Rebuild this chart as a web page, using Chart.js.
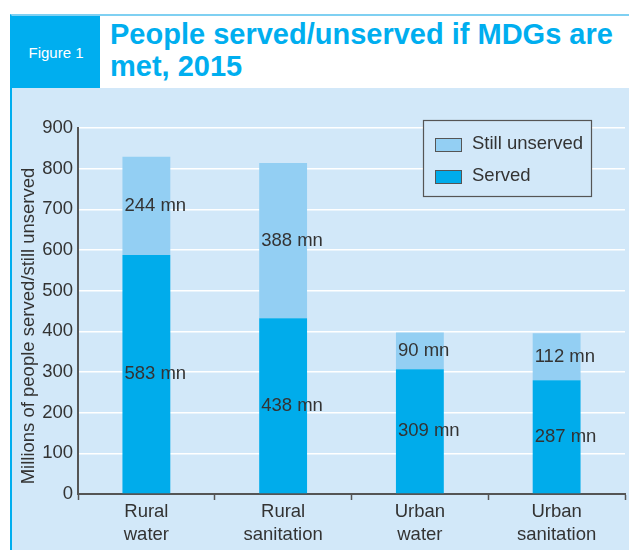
<!DOCTYPE html>
<html>
<head>
<meta charset="utf-8">
<script src="https://cdn.jsdelivr.net/npm/chart.js@4"></script>
<style>
  body { margin: 0; width: 629px; height: 550px; background: #fff; overflow: hidden; font-family: "Liberation Sans", Arial, sans-serif; }
  #frame { position: absolute; left: 10px; top: 14px; width: 619px; height: 536px; border-top: 2px solid #7fd0f2; border-left: 2px solid #00aeef; box-sizing: border-box; }
  #fig { position: absolute; left: 0; top: 0; width: 88px; height: 72px; background: #00aeef; color: #fff; font-size: 15px; display: flex; align-items: center; justify-content: center; }
  #title { position: absolute; left: 98px; top: 2px; color: #00aeef; font-weight: bold; font-size: 29px; line-height: 32px; }
  #panel { position: absolute; left: 0; top: 72px; width: 617px; height: 462px; background: #d2e8f9; }
  #chart-wrap { position: absolute; left: 0; top: 0; width: 617px; height: 462px; }
</style>
</head>
<body>
<div id="frame">
  <div id="fig">Figure 1</div>
  <div id="title">People served/unserved if MDGs are<br>met, 2015</div>
  <div id="panel">
    <div id="chart-wrap"><canvas id="mdgChart"></canvas></div>
  </div>
</div>
<script>
// categories (two-line labels)
const categories = [['Rural', 'water'], ['Rural', 'sanitation'], ['Urban', 'water'], ['Urban', 'sanitation']];
// bar heights as drawn, millions of people
const served = [588, 432, 307, 280];
const unserved = [241, 382, 90, 115];
// printed labels on the bars
const servedLabels = ['583 mn', '438 mn', '309 mn', '287 mn'];
const unservedLabels = ['244 mn', '388 mn', '90 mn', '112 mn'];
const yTicks = [0, 100, 200, 300, 400, 500, 600, 700, 800, 900];
const yTitle = 'Millions of people served/still unserved';

const SERVED_COLOR = '#00aceb';
const UNSERVED_COLOR = '#93cff3';
const TEXT_COLOR = '#333333';
const AXIS_COLOR = '#555555';
const FONT = '"Liberation Sans", Arial, sans-serif';

// writes the "xxx mn" text on each segment
const barLabels = {
    id: 'barLabels',
    afterDatasetsDraw(chart) {
        const ctx = chart.ctx;
        ctx.save();
        ctx.font = '18.5px ' + FONT;
        ctx.fillStyle = TEXT_COLOR;
        ctx.textBaseline = 'middle';
        ctx.textAlign = 'left';
        chart.data.datasets.forEach((ds, di) => {
            const meta = chart.getDatasetMeta(di);
            meta.data.forEach((bar, i) => {
                const left = bar.x - bar.width / 2;
                const mid = (bar.y + bar.base) / 2;
                ctx.fillText(ds.valueLabels[i], left + 2, mid);
            });
        });
        ctx.restore();
    }
};

// rotated y-axis title, sits a little below the middle like the original
const yAxisTitle = {
    id: 'yAxisTitle',
    afterDraw(chart) {
        const ctx = chart.ctx;
        const area = chart.chartArea;
        ctx.save();
        ctx.translate(17, (area.top + area.bottom) / 2 + 15);
        ctx.rotate(-Math.PI / 2);
        ctx.font = '18.5px ' + FONT;
        ctx.fillStyle = TEXT_COLOR;
        ctx.textAlign = 'center';
        ctx.textBaseline = 'middle';
        ctx.fillText(yTitle, 0, 0);
        ctx.restore();
    }
};

// boxed legend inside the plot, top right
const boxLegend = {
    id: 'boxLegend',
    afterDraw(chart) {
        const ctx = chart.ctx;
        const area = chart.chartArea;
        const w = 168, h = 76;
        const x = area.right - 34 - w, y = area.top - 8;
        ctx.save();
        ctx.fillStyle = '#d2e8f9';
        ctx.fillRect(x, y, w, h);
        ctx.strokeStyle = AXIS_COLOR;
        ctx.lineWidth = 1.2;
        ctx.strokeRect(x + 0.5, y + 0.5, w, h);
        ctx.font = '18.5px ' + FONT;
        ctx.textBaseline = 'middle';
        const items = [chart.data.datasets[1], chart.data.datasets[0]];
        items.forEach((ds, k) => {
            const cy = y + 24 + k * 32;
            ctx.fillStyle = ds.backgroundColor;
            ctx.fillRect(x + 12, cy - 6, 26, 13);
            ctx.strokeStyle = AXIS_COLOR;
            ctx.lineWidth = 1;
            ctx.strokeRect(x + 12.5, cy - 5.5, 26, 13);
            ctx.fillStyle = TEXT_COLOR;
            ctx.fillText(ds.label, x + 49, cy);
        });
        ctx.restore();
    }
};

new Chart(document.getElementById('mdgChart'), {
    type: 'bar',
    data: {
        labels: categories,
        datasets: [{
            label: 'Served',
            data: served,
            valueLabels: servedLabels,
            backgroundColor: SERVED_COLOR,
            barPercentage: 0.35,
            categoryPercentage: 1
        }, {
            label: 'Still unserved',
            data: unserved,
            valueLabels: unservedLabels,
            backgroundColor: UNSERVED_COLOR,
            barPercentage: 0.35,
            categoryPercentage: 1
        }]
    },
    options: {
        responsive: true,
        maintainAspectRatio: false,
        animation: false,
        layout: { padding: { top: 40, right: 4, left: 0, bottom: 0 } },
        plugins: {
            legend: { display: false },
            tooltip: { enabled: false }
        },
        scales: {
            x: {
                stacked: true,
                afterFit(scale) { scale.height = 56; },
                grid: {
                    offset: true,
                    drawOnChartArea: false,
                    drawTicks: true,
                    tickLength: 6,
                    tickColor: AXIS_COLOR,
                    tickWidth: 1.5
                },
                border: { color: AXIS_COLOR, width: 2 },
                ticks: {
                    color: TEXT_COLOR,
                    padding: 0,
                    font: { family: FONT, size: 18.5, lineHeight: 1.25 }
                }
            },
            y: {
                stacked: true,
                min: 0,
                max: 900,
                afterFit(scale) { scale.width = 66; },
                afterBuildTicks(scale) { scale.ticks = yTicks.map(v => ({ value: v })); },
                grid: {
                    color: '#ffffff',
                    lineWidth: 1.5,
                    drawTicks: false
                },
                border: { color: AXIS_COLOR, width: 2 },
                ticks: {
                    color: TEXT_COLOR,
                    padding: 5,
                    font: { family: FONT, size: 18.5 }
                }
            }
        }
    },
    plugins: [barLabels, yAxisTitle, boxLegend]
});
</script>
</body>
</html>
